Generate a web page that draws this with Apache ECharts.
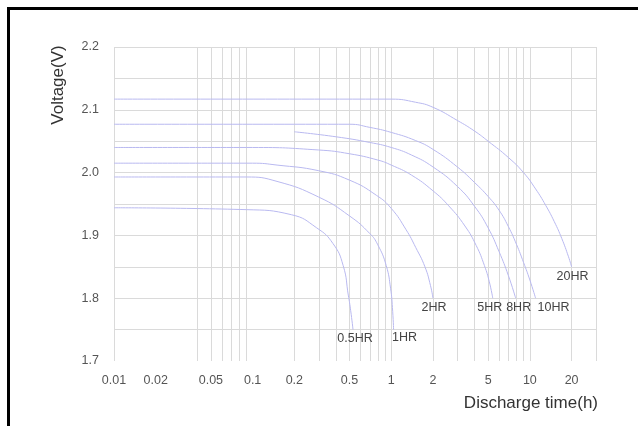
<!DOCTYPE html>
<html>
<head>
<meta charset="utf-8">
<script src="https://cdn.jsdelivr.net/npm/echarts@6/dist/echarts.min.js"></script>
<style>
  html, body { margin: 0; padding: 0; background: #fff; }
  #chart { position: absolute; left: 0; top: 0; width: 638px; height: 426px; }
  #frame { position: absolute; left: 7px; top: 7px; right: 0; bottom: 0;
           border-top: 3px solid #000; border-left: 3px solid #000; pointer-events: none; }
</style>
</head>
<body>
<div id="chart"></div>
<div id="frame"></div>
<script>
// ---- data ----
const xTickValues = [0.01, 0.02, 0.05, 0.1, 0.2, 0.5, 1, 2, 5, 10, 20];
const xGridValues = [0.01, 0.04, 0.05, 0.06, 0.07, 0.08, 0.09, 0.2, 0.3, 0.4, 0.5, 0.6, 0.7, 0.8, 0.9,
                     1, 2, 3, 4, 5, 6, 7, 8, 9, 10, 20, 30];
const yTickLabels = ['1.7', '1.8', '1.9', '2.0', '2.1', '2.2'];
const seriesNames = ['20HR', '10HR', '8HR', '5HR', '2HR', '1HR', '0.5HR'];

const hr20 = [[0.01,2.117],[1,2.117],[1.5,2.112],[2,2.104],[3,2.083],[4,2.066],[5,2.05],
              [7,2.024],[9,2.0],[11,1.974],[13,1.948],[15,1.922],[17,1.895],[19,1.866],[20,1.85]];
const hr10 = [[0.01,2.077],[0.5,2.077],[0.7,2.072],[1,2.064],[1.5,2.051],[2,2.037],[3,2.009],[4,1.984],
              [5,1.962],[6,1.94],[7,1.914],[8,1.886],[9,1.857],[10,1.829],[11,1.80]];
const hr8  = [[0.2,2.065],[0.4,2.057],[0.7,2.048],[1,2.04],[1.4,2.028],[2,2.009],[3,1.978],[4,1.946],
              [5,1.912],[6,1.874],[7,1.836],[7.9,1.80]];
const hr5  = [[0.01,2.04],[0.1,2.04],[0.3,2.036],[0.5,2.03],[0.8,2.02],[1,2.012],[1.4,1.996],[2,1.971],
              [2.6,1.947],[3.4,1.915],[4.1,1.884],[4.7,1.852],[5.1,1.826],[5.4,1.80]];
const hr2  = [[0.01,2.015],[0.1,2.015],[0.15,2.012],[0.3,2.003],[0.5,1.988],[0.78,1.964],[1,1.943],
              [1.28,1.909],[1.5,1.881],[1.75,1.85],[1.92,1.82],[2,1.80]];
const hr1  = [[0.01,1.993],[0.09,1.993],[0.15,1.986],[0.3,1.961],[0.5,1.931],[0.7,1.903],[0.8,1.885],
              [0.92,1.852],[0.99,1.815],[1.02,1.785],[1.04,1.75]];
const hr05 = [[0.01,1.944],[0.09,1.941],[0.19,1.933],[0.29,1.912],[0.38,1.887],[0.45,1.852],
              [0.49,1.805],[0.51,1.78],[0.53,1.75]];

// ---- styles ----
const curveColor = '#b9b9f0';
const gridColor = '#dadada';
const labelOffsets = { '20HR':[1,10], '10HR':[18,9], '8HR':[3,9], '5HR':[-3,9], '2HR':[1,9], '1HR':[11,8], '0.5HR':[2,9] };
const font = '"Liberation Sans", Arial, sans-serif';

const seriesData = [hr20, hr10, hr8, hr5, hr2, hr1, hr05];

const series = seriesData.map((d, i) => {
  const name = seriesNames[i];
  const s = {
    name: name,
    type: 'line',
    data: d,
    showSymbol: false,
    smooth: 0.5,
    silent: true,
    lineStyle: { color: curveColor, width: 1 },
    itemStyle: { color: curveColor },
    z: 3,
    markPoint: {
      symbol: 'circle',
      symbolSize: 0,
      silent: true,
      data: [{ coord: d[d.length - 1], value: name }],
      label: {
        show: true, position: 'inside', formatter: name,
        offset: labelOffsets[name], color: '#444', fontSize: 12.5, fontFamily: font
      }
    }
  };
  if (i === 0) {
    s.markLine = {
      silent: true,
      symbol: ['none', 'none'],
      label: { show: false },
      lineStyle: { color: gridColor, type: 'solid', width: 1 },
      z: 1,
      data: xGridValues.map(v => ({ xAxis: v }))
    };
  }
  return s;
});

const chart = echarts.init(document.getElementById('chart'), null, { renderer: 'canvas' });
chart.setOption({
  animation: false,
  backgroundColor: 'transparent',
  grid: { left: 114, right: 42, top: 47, bottom: 65, containLabel: false },
  xAxis: {
    type: 'log',
    logBase: 10,
    min: 0.01,
    max: 30,
    axisLine: { show: false },
    axisTick: { show: false },
    splitLine: { show: false },
    minorSplitLine: { show: false },
    axisLabel: {
      customValues: xTickValues,
      margin: 13,
      color: '#555',
      fontSize: 12.5,
      fontFamily: font,
      formatter: v => {
        let best = xTickValues[0];
        xTickValues.forEach(t => { if (Math.abs(Math.log10(t) - Math.log10(v)) < Math.abs(Math.log10(best) - Math.log10(v))) best = t; });
        return String(best);
      }
    }
  },
  yAxis: {
    type: 'value',
    min: 1.7,
    max: 2.2,
    interval: 0.05,
    axisLine: { show: false },
    axisTick: { show: false },
    splitLine: { show: true, showMinLine: false, lineStyle: { color: gridColor, width: 1 } },
    axisLabel: {
      margin: 15,
      color: '#555',
      fontSize: 12.5,
      fontFamily: font,
      formatter: v => {
        const s = v.toFixed(1);
        return (yTickLabels.indexOf(s) >= 0 && Math.abs(v - parseFloat(s)) < 1e-6) ? s : '';
      }
    }
  },
  graphic: [
    { type: 'text', x: 58, y: 85, rotation: Math.PI / 2, silent: true,
      style: { text: 'Voltage(V)', fill: '#333', font: '17px ' + font, textAlign: 'center', textVerticalAlign: 'middle' } },
    { type: 'text', x: 598, y: 403, silent: true,
      style: { text: 'Discharge time(h)', fill: '#333', font: '17px ' + font, textAlign: 'right', textVerticalAlign: 'middle' } }
  ],
  series: series
});
</script>
</body>
</html>
